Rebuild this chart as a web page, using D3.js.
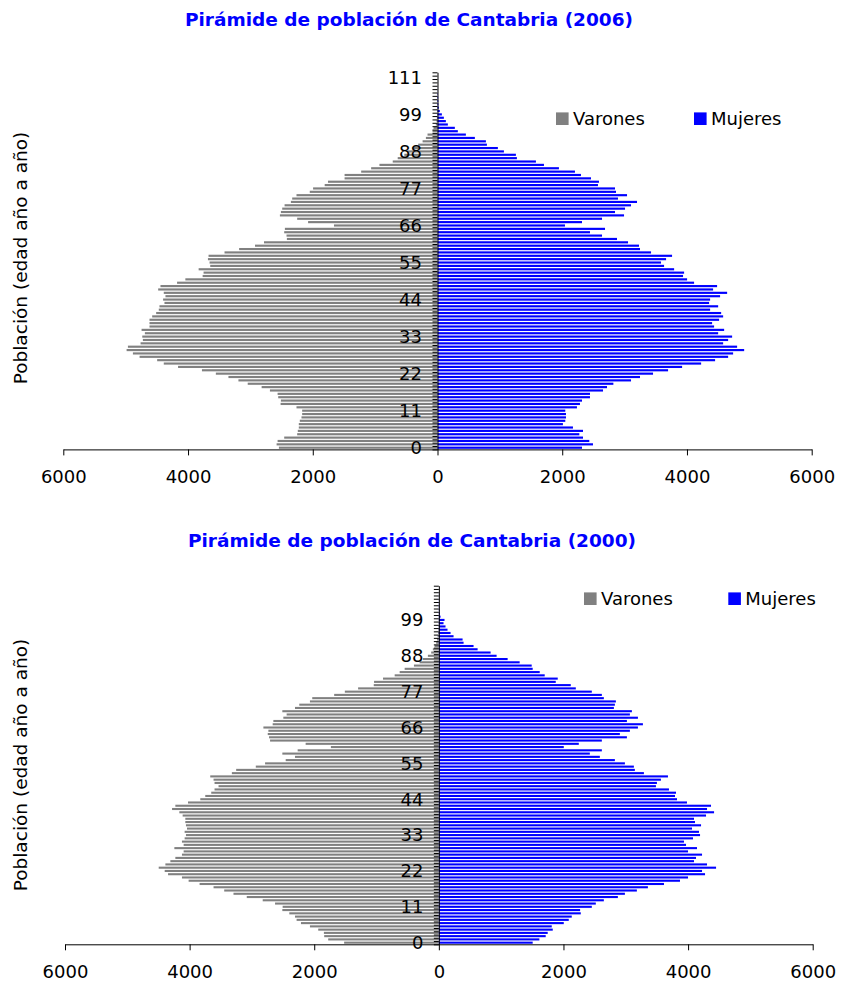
<!DOCTYPE html>
<html>
<head>
<meta charset="utf-8">
<script src="https://cdn.jsdelivr.net/npm/d3@7"></script>
<style>
  body { margin: 0; background: #fff; }
  svg text { font-family: "DejaVu Sans", Verdana, sans-serif; fill: #000; }
</style>
</head>
<body>
<script>
// edades (la categoría 110 del 2006 aparece rotulada como 111)
const ages2006 = d3.range(0, 110).map(String).concat(["111", "112"]);
const ages2000 = d3.range(0, 110).map(String);

const varones2006 = [
  2543, 2580, 2564, 2458, 2250, 2240, 2224, 2224, 2208, 2181,
  2170, 2170, 2261, 2516, 2511, 2554, 2564, 2687, 2820, 3043,
  3192, 3352, 3554, 3777, 4160, 4389, 4495, 4777, 4884, 4985,
  4964, 4761, 4724, 4734, 4692, 4745, 4618, 4618, 4618, 4575,
  4511, 4469, 4458, 4378, 4400, 4362, 4389, 4479, 4442, 4176,
  4043, 3766, 3751, 3830, 3644, 3655, 3681, 3671, 3415, 3181,
  2926, 2782, 2415, 2421, 2458, 2447, 1660, 2075, 2250, 2527,
  2511, 2490, 2452, 2351, 2330, 2261, 2048, 1995, 1809, 1756,
  1490, 1490, 1224, 1064, 931, 718, 638, 532, 489, 399,
  309, 239, 186, 160, 80, 64, 27, 15, 10, 6,
  3, 2, 1, 1, 0, 0, 0, 0, 0, 0,
  0, 0
];
const mujeres2006 = [
  2317, 2493, 2434, 2333, 2274, 2333, 2172, 2011, 2049, 2060,
  2060, 2049, 2236, 2284, 2317, 2445, 2445, 2654, 2718, 2820,
  3103, 3247, 3456, 3697, 3922, 4227, 4451, 4660, 4740, 4917,
  4804, 4580, 4660, 4724, 4500, 4596, 4435, 4403, 4515, 4580,
  4548, 4371, 4500, 4355, 4371, 4531, 4644, 4419, 4483, 4114,
  4002, 3937, 3954, 3794, 3633, 3584, 3665, 3761, 3424, 3247,
  3231, 3055, 2878, 2638, 2445, 2686, 2044, 2317, 2638, 2991,
  2846, 3007, 3103, 3199, 2894, 3039, 2862, 2846, 2573, 2589,
  2461, 2300, 2204, 1947, 1707, 1578, 1273, 1257, 1065, 968,
  792, 776, 599, 455, 326, 278, 166, 134, 102, 70,
  37, 21, 14, 12, 10, 6, 2, 1, 0, 0,
  0, 0
];
const varones2000 = [
  1520, 1776, 1840, 1845, 1936, 2069, 2213, 2283, 2309, 2400,
  2512, 2507, 2629, 2827, 3083, 3296, 3445, 3616, 3840, 4016,
  4123, 4346, 4400, 4496, 4389, 4309, 4229, 4123, 4096, 4245,
  4096, 4123, 4080, 4059, 4080, 4042, 4059, 4069, 4069, 4112,
  4165, 4282, 4229, 4026, 3829, 3749, 3653, 3600, 3536, 3600,
  3616, 3669, 3322, 3253, 2938, 2789, 2458, 2309, 2512, 2266,
  1733, 2138, 2709, 2725, 2746, 2736, 2816, 2667, 2656, 2496,
  2443, 2512, 2309, 2240, 2069, 2032, 1680, 1509, 1296, 1045,
  1040, 896, 709, 629, 549, 400, 309, 256, 176, 123,
  96, 69, 43, 30, 20, 12, 8, 5, 3, 2,
  1, 1, 0, 0, 0, 0, 0, 0, 0, 0
];
const mujeres2000 = [
  1506, 1613, 1715, 1747, 1828, 1812, 2005, 2085, 2133, 2278,
  2267, 2455, 2519, 2648, 2873, 2986, 3178, 3355, 3613, 3870,
  3999, 4272, 4224, 4449, 4304, 4095, 4127, 4224, 3999, 4143,
  3967, 3934, 4079, 4192, 4175, 4063, 4208, 4111, 4095, 4288,
  4417, 4304, 4368, 3982, 3822, 3790, 3806, 3693, 3484, 3500,
  3564, 3677, 3291, 3146, 3130, 2986, 2825, 2584, 2423, 2616,
  2005, 2246, 2616, 3018, 2905, 3066, 3195, 3275, 3018, 3195,
  3066, 3098, 2809, 2825, 2841, 2648, 2616, 2455, 2198, 2117,
  1876, 1908, 1699, 1619, 1506, 1490, 1297, 1104, 927, 831,
  622, 557, 397, 381, 236, 188, 139, 107, 75, 91,
  27, 15, 8, 5, 3, 2, 1, 1, 0, 0
];

const xTicks = [-6000, -4000, -2000, 0, 2000, 4000, 6000];
const labelEvery = 11;
const seriesNames = ["Varones", "Mujeres"];
const seriesColors = ["#808080", "#0000ff"];

const svg = d3.select("body").append("svg")
  .attr("width", 850)
  .attr("height", 982);

function drawPyramid(cfg) {
  const g = svg.append("g");

  const x = d3.scaleLinear().domain([-6000, 6000]).range([cfg.left, cfg.right]);
  const y = d3.scaleBand().domain(cfg.ages).range([cfg.bottom, cfg.top])
    .paddingInner(0.36).paddingOuter(0.18);
  const yIdx = d3.scaleLinear().domain([-0.5, cfg.ages.length - 0.5]).range([cfg.bottom, cfg.top]);

  // title
  g.append("text")
    .attr("x", cfg.titleX).attr("y", cfg.titleY)
    .attr("text-anchor", "middle")
    .attr("dy", "0.35em")
    .style("font-size", "18.5px").style("font-weight", "bold")
    .style("fill", "#0000ff")
    .text(cfg.title);

  // bars
  g.append("g").selectAll("rect")
    .data(cfg.varones)
    .join("rect")
    .attr("x", d => x(-d))
    .attr("y", (d, i) => y(cfg.ages[i]))
    .attr("width", d => x(0) - x(-d))
    .attr("height", y.bandwidth())
    .attr("fill", seriesColors[0]);

  g.append("g").selectAll("rect")
    .data(cfg.mujeres)
    .join("rect")
    .attr("x", x(0))
    .attr("y", (d, i) => y(cfg.ages[i]))
    .attr("width", d => x(d) - x(0))
    .attr("height", y.bandwidth())
    .attr("fill", seriesColors[1]);

  // x axis
  const xAxis = g.append("g")
    .attr("transform", `translate(0,${cfg.bottom})`)
    .call(d3.axisBottom(x).tickValues(xTicks).tickFormat(d => Math.abs(d)).tickSize(6).tickSizeOuter(0));
  xAxis.selectAll("text").attr("y", 27.5).attr("dy", "0.35em").style("font-size", "18px");

  // category ticks between ages
  g.append("g")
    .attr("transform", `translate(${x(0)},0)`)
    .call(d3.axisLeft(yIdx).tickValues(d3.range(cfg.ages.length + 1).map(i => i - 0.5))
      .tickFormat("").tickSize(5).tickSizeOuter(0));

  // age labels every 11
  const yLabels = g.append("g")
    .attr("transform", `translate(${x(0)},0)`)
    .call(d3.axisLeft(y).tickValues(cfg.ages.filter((a, i) => i % labelEvery === 0))
      .tickSize(0).tickPadding(15.5));
  yLabels.select(".domain").remove();
  yLabels.selectAll("text").style("font-size", "18px").attr("dy", "0.35em");

  g.selectAll(".domain, .tick line").attr("stroke", "#000");

  // y title
  g.append("text")
    .attr("transform", `translate(${cfg.yTitleX},${cfg.yTitleY}) rotate(-90)`)
    .attr("text-anchor", "middle")
    .attr("dy", "0.35em")
    .style("font-size", "18.5px")
    .text("Población (edad año a año)");

  // legend
  const legend = g.append("g").selectAll("g")
    .data(seriesNames)
    .join("g")
    .attr("transform", (d, i) => `translate(${cfg.legendX[i]},${cfg.legendY})`);
  legend.append("rect")
    .attr("x", 0).attr("y", -6.3)
    .attr("width", 12.6).attr("height", 12.6)
    .attr("fill", (d, i) => seriesColors[i]);
  legend.append("text")
    .attr("x", 17).attr("y", 0)
    .attr("dy", "0.35em")
    .style("font-size", "18px")
    .text(d => d);
}

drawPyramid({
  title: "Pirámide de población de Cantabria (2006)",
  ages: ages2006, varones: varones2006, mujeres: mujeres2006,
  left: 63.3, right: 811.7, top: 72.3, bottom: 449.4,
  titleX: 409, titleY: 20,
  yTitleX: 21, yTitleY: 258,
  legendX: [556, 694], legendY: 118.7
});

drawPyramid({
  title: "Pirámide de población de Cantabria (2000)",
  ages: ages2000, varones: varones2000, mujeres: mujeres2000,
  left: 65, right: 812.7, top: 585.7, bottom: 944.3,
  titleX: 412, titleY: 541,
  yTitleX: 21, yTitleY: 765,
  legendX: [584, 728.3], legendY: 598.7
});
</script>
</body>
</html>
